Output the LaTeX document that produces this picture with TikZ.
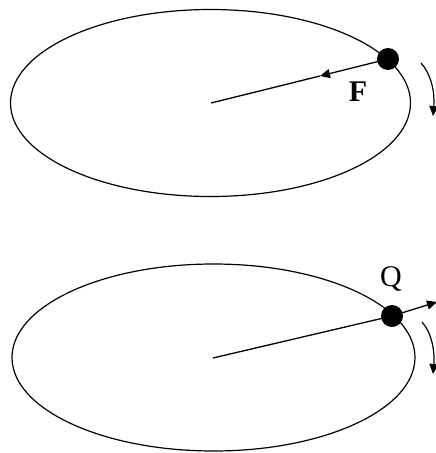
\documentclass[tikz,border=0pt]{standalone}
\usepackage{fontspec}
\setmainfont{Liberation Serif}
\usetikzlibrary{arrows.meta,shapes.geometric}
\begin{document}
\begin{tikzpicture}[x=1pt,y=-1pt,
  orbit/.style={draw=black,line width=1.2pt},
  ray/.style={draw=black,line width=1.3pt},
  body/.style={circle,fill=black,minimum size=22pt,inner sep=0pt},
  tip/.style={-{Triangle[length=10pt,width=9pt]}},
  lbl/.style={font=\fontsize{30}{30}\selectfont}]
\useasboundingbox (0,0) rectangle (436,453);
% top orbit
\node[orbit,ellipse,minimum width=400pt,minimum height=187pt,inner sep=0pt] (e1) at (210.5,103) {};
\coordinate (c1) at (211,103);
\coordinate (m1) at (320,76);
\node[body] (p1) at (388,59) {};
\draw[ray,tip] (p1.center) -- (m1);
\draw[ray] (m1) -- (c1);
\node[lbl,font=\bfseries\fontsize{30}{30}\selectfont] (F) at (358,92) {F};
\coordinate (a1) at (421,63);
\coordinate (b1) at (433,116);
\draw[orbit,tip] (a1) .. controls (431,74) and (435,92) .. (b1);
% bottom orbit
\node[orbit,ellipse,minimum width=403pt,minimum height=187pt,inner sep=0pt] (e2) at (213.5,357.5) {};
\coordinate (c2) at (213,358);
\node[body] (p2) at (392,316) {};
\draw[ray] (p2.center) -- (c2);
\coordinate (q2) at (437,302);
\draw[ray,tip] (p2.center) -- (q2);
\node[lbl] (Q) at (391,279) {Q};
\coordinate (a2) at (422,322);
\coordinate (b2) at (433,374);
\draw[orbit,tip] (a2) .. controls (432,333) and (435,352) .. (b2);
\end{tikzpicture}
\end{document}
